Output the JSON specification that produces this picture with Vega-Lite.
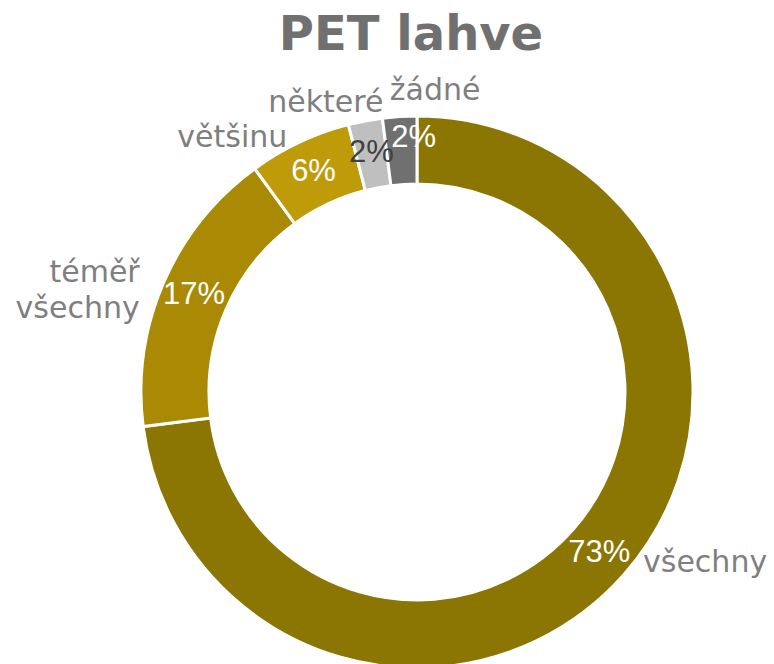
{
  "$schema": "https://vega.github.io/schema/vega-lite/v6.json",
  "width": 714,
  "height": 544,
  "autosize": {"type": "none"},
  "padding": {"left": 60, "top": 120, "right": 0, "bottom": 0},
  "background": "white",
  "config": {"view": {"stroke": null}},
  "title": {
    "text": "PET lahve",
    "font": "DejaVu Sans",
    "fontSize": 48,
    "fontWeight": "bold",
    "color": "#707070",
    "anchor": "middle",
    "frame": "group",
    "baseline": "alphabetic",
    "offset": -47,
    "dx": -6
  },
  "data": {
    "values": [
      {"category": "všechny", "label": "všechny", "value": 0.73, "order": 1},
      {"category": "téměř všechny", "label": "téměř\nvšechny", "value": 0.17, "order": 2},
      {"category": "většinu", "label": "většinu", "value": 0.06, "order": 3},
      {"category": "některé", "label": "některé", "value": 0.02, "order": 4},
      {"category": "žádné", "label": "žádné", "value": 0.02, "order": 5}
    ]
  },
  "encoding": {
    "theta": {"field": "value", "type": "quantitative", "stack": true},
    "order": {"field": "order", "type": "quantitative"}
  },
  "layer": [
    {
      "mark": {"type": "arc", "outerRadius": 276, "innerRadius": 208, "stroke": "white", "strokeWidth": 3},
      "encoding": {
        "color": {
          "field": "category",
          "type": "nominal",
          "scale": {
            "domain": ["všechny", "téměř všechny", "většinu", "některé", "žádné"],
            "range": ["#8B7503", "#AA8905", "#BF9B0A", "#BFBFBF", "#707070"]
          },
          "legend": null
        }
      }
    },
    {
      "mark": {"type": "text", "radius": 243, "font": "Liberation Sans", "fontSize": 31, "align": "center", "baseline": "middle"},
      "encoding": {
        "text": {"condition": {"test": "datum.category !== 'žádné'", "field": "value", "type": "quantitative", "format": ".0%"}, "value": ""},
        "color": {"condition": {"test": "datum.category === 'některé'", "value": "#404040"}, "value": "white"}
      }
    },
    {
      "mark": {"type": "text", "radius": 243, "font": "Liberation Sans", "fontSize": 31, "align": "center", "baseline": "middle", "dx": 12, "dy": -11, "fill": "white"},
      "encoding": {
        "text": {"condition": {"test": "datum.category === 'žádné'", "field": "value", "type": "quantitative", "format": ".0%"}, "value": ""}
      }
    },
    {
      "mark": {"type": "text", "radius": 300, "font": "DejaVu Sans", "fontSize": 30, "align": "left", "baseline": "alphabetic", "dx": 1, "dy": -18, "fill": "#7F7F7F"},
      "encoding": {
        "text": {"condition": {"test": "datum.category === 'všechny'", "field": "label", "type": "nominal"}, "value": ""}
      }
    },
    {
      "mark": {"type": "text", "radius": 300, "font": "DejaVu Sans", "fontSize": 30, "align": "right", "baseline": "alphabetic", "dx": -2, "dy": 9, "lineBreak": "\n", "lineHeight": 36, "fill": "#7F7F7F"},
      "encoding": {
        "text": {"condition": {"test": "datum.category === 'téměř všechny'", "field": "label", "type": "nominal"}, "value": ""}
      }
    },
    {
      "mark": {"type": "text", "radius": 300, "font": "DejaVu Sans", "fontSize": 30, "align": "right", "baseline": "alphabetic", "dx": -2, "dy": 26, "fill": "#7F7F7F"},
      "encoding": {
        "text": {"condition": {"test": "datum.category === 'většinu'", "field": "label", "type": "nominal"}, "value": ""}
      }
    },
    {
      "mark": {"type": "text", "radius": 300, "font": "DejaVu Sans", "fontSize": 30, "align": "center", "baseline": "alphabetic", "dx": -35, "dy": 15, "fill": "#7F7F7F"},
      "encoding": {
        "text": {"condition": {"test": "datum.category === 'některé'", "field": "label", "type": "nominal"}, "value": ""}
      }
    },
    {
      "mark": {"type": "text", "radius": 300, "font": "DejaVu Sans", "fontSize": 30, "align": "center", "baseline": "alphabetic", "dx": 37, "dy": 7, "fill": "#7F7F7F"},
      "encoding": {
        "text": {"condition": {"test": "datum.category === 'žádné'", "field": "label", "type": "nominal"}, "value": ""}
      }
    }
  ]
}
